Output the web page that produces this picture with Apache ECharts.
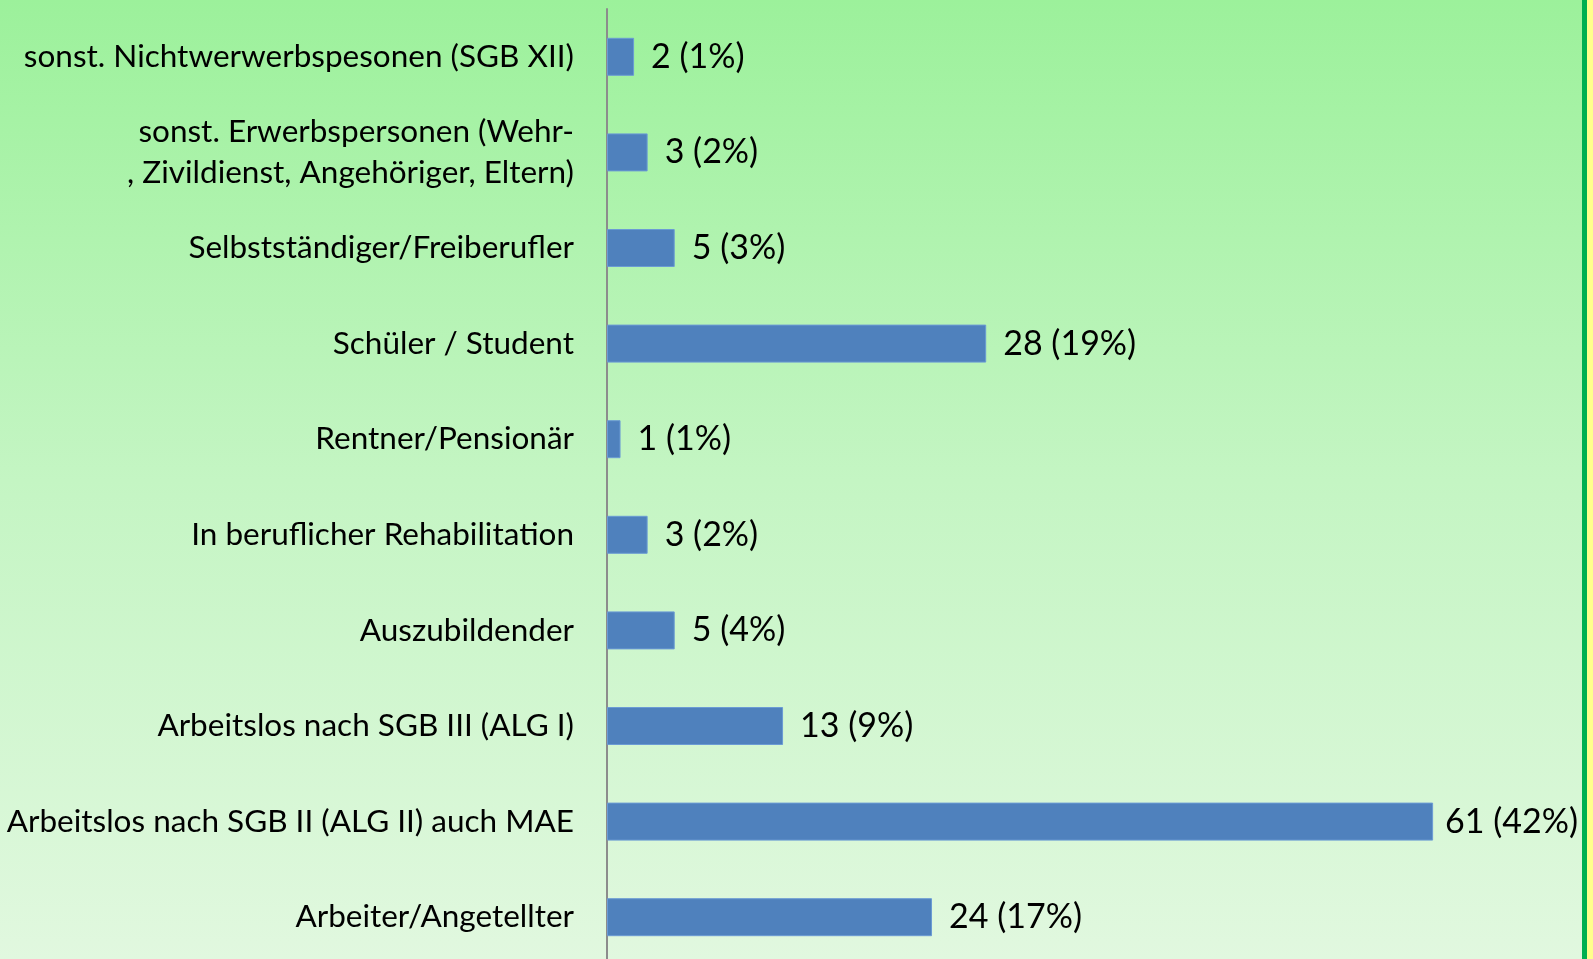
<!DOCTYPE html>
<html>
<head>
<meta charset="utf-8">
<script src="https://cdn.jsdelivr.net/npm/echarts@6/dist/echarts.min.js"></script>
<style>
  html, body { margin: 0; padding: 0; }
  .page {
    position: relative;
    width: 1593px;
    height: 959px;
    background: linear-gradient(to bottom, #9cf19b 0%, #c4f5c3 50%, #e1f8df 100%);
    overflow: hidden;
  }
  .greenEdge { position: absolute; left: 1582px; top: 0; width: 5px; height: 959px; background: #00b050; }
  .yellowEdge { position: absolute; left: 1587px; top: 0; width: 6px; height: 959px; background: #ffff8c; }
  #chart { position: absolute; left: 0; top: 0; width: 1593px; height: 959px; }
</style>
</head>
<body>
<div class="page">
  <div id="chart"></div>
  <div class="greenEdge"></div>
  <div class="yellowEdge"></div>
</div>
<script>
const categories = [
  'sonst. Nichtwerwerbspesonen (SGB XII)',
  'sonst. Erwerbspersonen (Wehr-\n, Zivildienst, Angehöriger, Eltern)',
  'Selbstständiger/Freiberufler',
  'Schüler / Student',
  'Rentner/Pensionär',
  'In beruflicher Rehabilitation',
  'Auszubildender',
  'Arbeitslos nach SGB III (ALG I)',
  'Arbeitslos nach SGB II (ALG II) auch MAE',
  'Arbeiter/Angetellter'
]
const counts = [2, 3, 5, 28, 1, 3, 5, 13, 61, 24]
const percents = ['1%', '2%', '3%', '19%', '1%', '2%', '4%', '9%', '42%', '17%']

const font = 'Lato, "Open Sans", sans-serif'
// the longest bar's label sits a bit closer so it fits before the edge
const barData = counts.map((v) => v === Math.max(...counts) ? { value: v, label: { distance: 12 } } : v)

const myChart = echarts.init(document.getElementById('chart'))
myChart.setOption({
  animation: false,
  grid: {
    left: 607,
    right: 38,
    top: 9,
    height: 956,
    outerBoundsMode: 'none'
  },
  xAxis: {
    type: 'value',
    min: 0,
    max: 70,
    show: false
  },
  yAxis: {
    type: 'category',
    inverse: true,
    data: categories,
    axisTick: { show: false },
    axisLine: {
      lineStyle: { color: '#8c8c8c', width: 2 }
    },
    axisLabel: {
      color: '#000',
      fontSize: 31.5,
      fontFamily: font,
      lineHeight: 41,
      margin: 33,
      padding: [5, 0, 0, 0],
      align: 'right'
    }
  },
  series: [
    {
      type: 'bar',
      data: barData,
      barWidth: 38,
      itemStyle: {
        color: '#4f81bd',
        borderColor: '#6b9bd4',
        borderWidth: 1
      },
      label: {
        show: true,
        position: 'right',
        distance: 17,
        color: '#000',
        fontSize: 34,
        fontFamily: font,
        padding: [8, 0, 0, 0],
        formatter: (p) => p.value + ' (' + percents[p.dataIndex] + ')'
      }
    }
  ]
})
</script>
</body>
</html>
